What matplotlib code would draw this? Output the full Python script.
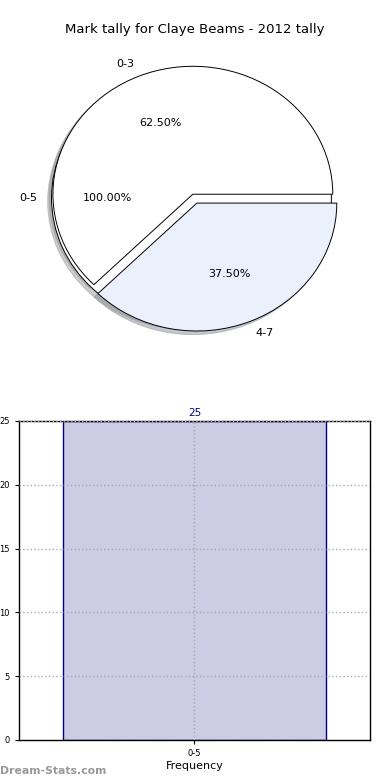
import matplotlib
matplotlib.use("Agg")
import matplotlib.pyplot as plt

title = "Mark tally for Claye Beams - 2012 tally"
outer_labels = ["0-5"]
outer_values = [100.0]
inner_labels = ["0-3", "4-7"]
inner_values = [62.5, 37.5]
inner_colors = ["#ffffff", "#eaf0fc"]
inner_explode = [0.0, 0.075]

bar_categories = ["0-5"]
bar_values = [25]
y_ticks = [0, 5, 10, 15, 20, 25]

fig = plt.figure(figsize=(3.9, 7.8), dpi=100)

# Pie
axp = fig.add_axes([0.046, 0.546, 0.897, 0.410])
axp.pie(outer_values, labels=outer_labels, colors=["#ffffff"], autopct="%.2f%%",
        shadow=dict(shade=0.4), startangle=0, counterclock=True,
        center=(-0.01, -0.03),
        wedgeprops=dict(edgecolor="black", linewidth=0.7),
        textprops=dict(fontsize=8))
axp.pie(inner_values, labels=inner_labels, colors=inner_colors, autopct="%.2f%%",
        explode=inner_explode, shadow=dict(shade=0.4), startangle=0,
        wedgeprops=dict(edgecolor="black", linewidth=0.7),
        textprops=dict(fontsize=8))
axp.set_aspect("auto")
axp.set_xlim(-1.25, 1.25)
axp.set_ylim(-1.25, 1.25)
fig.text(0.5, 0.962, title, ha="center", va="center", fontsize=9.5)

# Bar
axb = fig.add_axes([0.0487, 0.0513, 0.9, 0.409])
xpos = list(range(len(bar_categories)))
bars = axb.bar(xpos, bar_values, width=0.75, color="#ccccE4",
               edgecolor="#000080", linewidth=1.0, zorder=1)
for x, v in zip(xpos, bar_values):
    axb.text(x, v + 0.25, str(v), ha="center", va="bottom", fontsize=7.5, color="#000080")
axb.set_xlim(-0.5, len(bar_categories) - 0.5)
axb.set_ylim(0, 25)
axb.set_yticks(y_ticks)
axb.set_xticks(xpos)
axb.set_xticklabels(bar_categories)
axb.tick_params(labelsize=6, length=3, direction="out")
axb.grid(True, linestyle=":", color="#aaaaaa", linewidth=1.0, zorder=3)
axb.set_axisbelow(False)
axb.set_xlabel("Frequency", fontsize=8, labelpad=2)
axb.set_ylabel("Student Tally", fontsize=8, labelpad=6)
for s in axb.spines.values():
    s.set_linewidth(1.0)

fig.text(0.0, 0.012, "Dream-Stats.com", ha="left", va="center", fontsize=7.8,
         color="#999999", fontweight="bold")

fig.savefig("out.png", dpi=100)
